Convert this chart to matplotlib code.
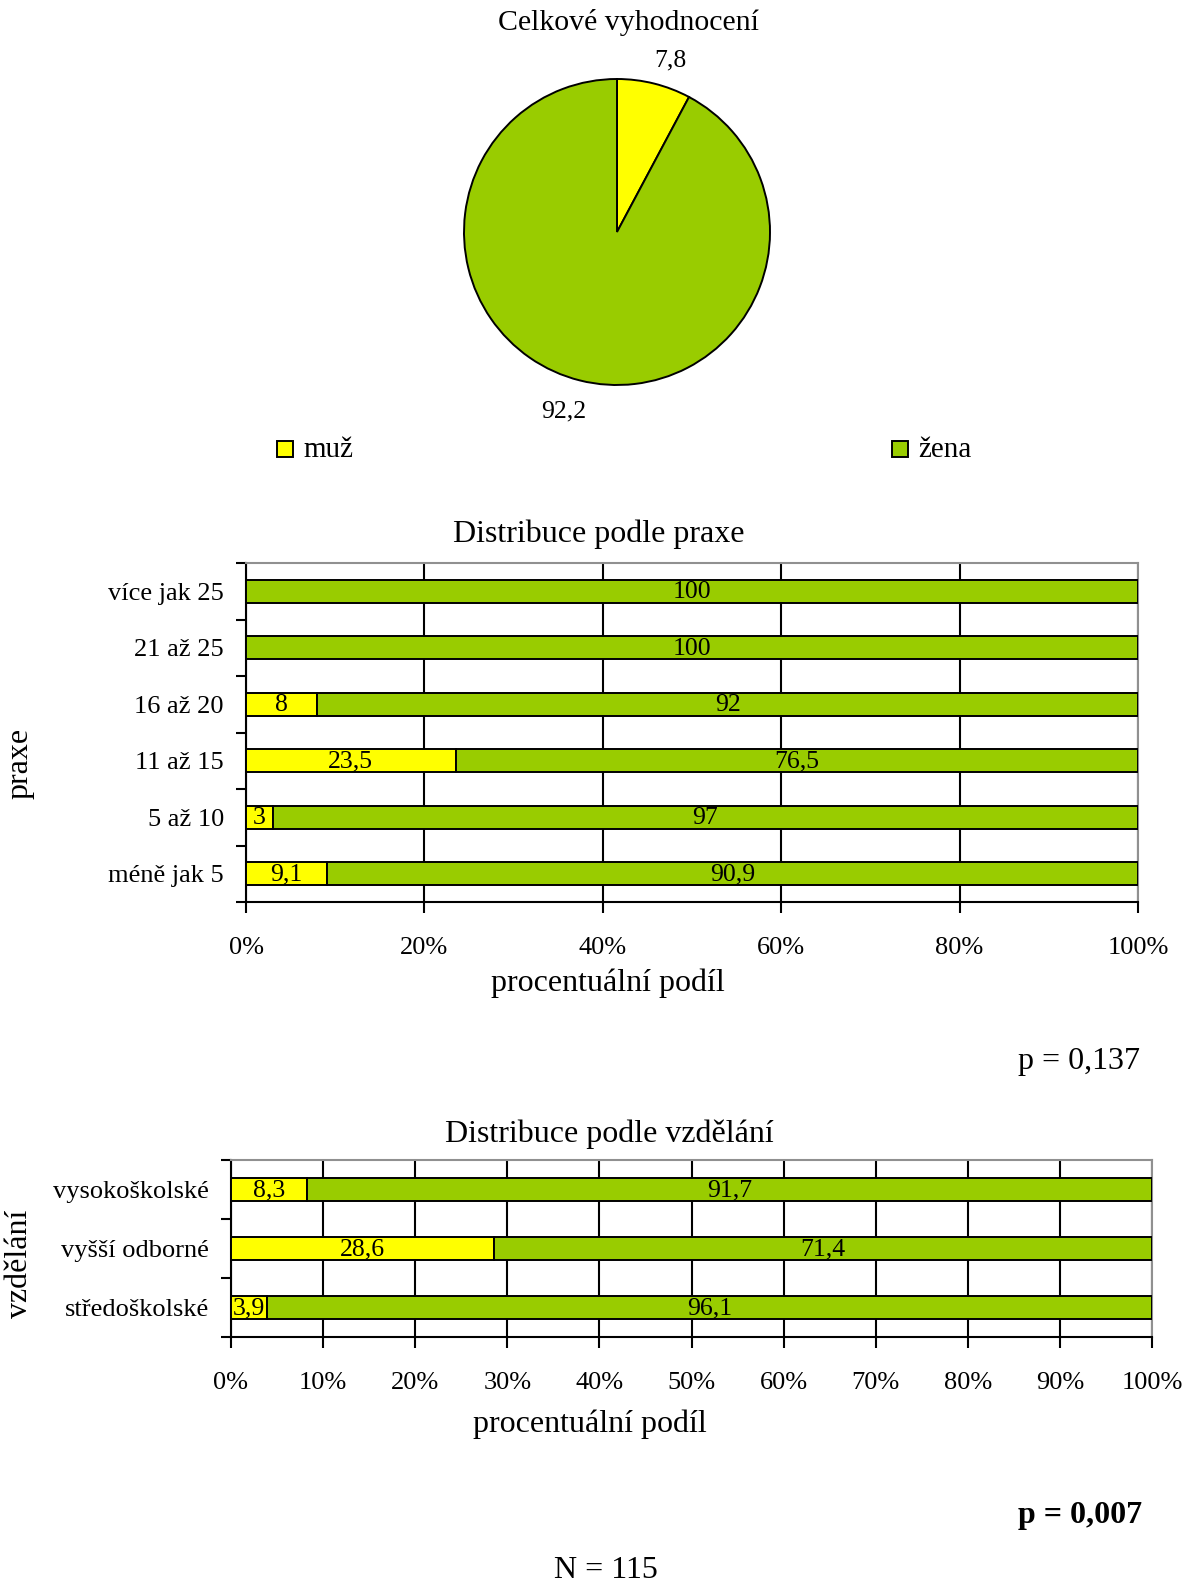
import matplotlib
matplotlib.use("Agg")
import matplotlib.pyplot as plt
from matplotlib.patches import Rectangle

plt.rcParams["font.family"] = ["Liberation Serif", "DejaVu Serif"]

YELLOW = "#FFFF00"
GREEN = "#99CC00"

# overall split
pie_labels = ["muž", "žena"]
pie_values = [7.8, 92.2]

# by practice length
praxe_cats = ["méně jak 5", "5 až 10", "11 až 15", "16 až 20", "21 až 25", "více jak 25"]
praxe_muz = [9.1, 3, 23.5, 8, 0, 0]
praxe_zena = [90.9, 97, 76.5, 92, 100, 100]

# by education
vzd_cats = ["středoškolské", "vyšší odborné", "vysokoškolské"]
vzd_muz = [3.9, 28.6, 8.3]
vzd_zena = [96.1, 71.4, 91.7]

W, H = 1188, 1585
fig = plt.figure(figsize=(W / 100, H / 100), dpi=100)


def px_axes(left, top, right, bottom):
    return fig.add_axes([left / W, 1 - bottom / H, (right - left) / W, (bottom - top) / H])


def fmt(v):
    return f"{v:g}".replace(".", ",")


def stacked_bars(ax, cats, muz, zena, xticks, bar_h):
    y = range(len(cats))
    ax.barh(y, muz, height=bar_h, color=YELLOW, edgecolor="black", linewidth=1.4, zorder=3)
    ax.barh(y, zena, left=muz, height=bar_h, color=GREEN, edgecolor="black", linewidth=1.4, zorder=3)
    for i in y:
        if muz[i] > 0:
            ax.text(muz[i] / 2, i - 0.02, fmt(muz[i]), ha="center", va="center", fontsize=18.5, zorder=4)
        ax.text(muz[i] + zena[i] / 2, i - 0.02, fmt(zena[i]), ha="center", va="center", fontsize=18.5, zorder=4)
    ax.set_xlim(0, 100)
    ax.set_ylim(-0.5, len(cats) - 0.5)
    ax.set_xticks(xticks)
    ax.set_xticklabels([f"{t}%" for t in xticks], fontsize=19)
    ax.set_yticks([i - 0.5 for i in range(len(cats) + 1)])
    ax.set_yticklabels([])
    ax.set_yticks(list(y), minor=True)
    ax.set_yticklabels(cats, minor=True, fontsize=19)
    ax.tick_params(axis="y", which="major", length=7, width=1.5, direction="out")
    ax.tick_params(axis="y", which="minor", length=0, pad=16)
    ax.tick_params(axis="x", length=8, width=1.5, direction="out", pad=17)
    ax.grid(axis="x", color="black", linewidth=1.5, zorder=0)
    ax.set_axisbelow(True)
    for s in ["left", "bottom"]:
        ax.spines[s].set_color("black")
        ax.spines[s].set_linewidth(1.5)
    for s in ["top", "right"]:
        ax.spines[s].set_color("#909090")
        ax.spines[s].set_linewidth(1.5)


# pie chart
ax_pie = px_axes(464, 79, 770, 385)
wedges, texts = ax_pie.pie(
    pie_values,
    colors=[YELLOW, GREEN],
    startangle=90,
    counterclock=False,
    labels=[fmt(v) for v in pie_values],
    labeldistance=1.17,
    wedgeprops={"edgecolor": "black", "linewidth": 1.4},
    textprops={"fontsize": 18.5},
)
# nudge labels to where the original places them
texts[0].set_position((0.35, 1.12))
texts[0].set_ha("center")
texts[1].set_position((-0.35, -1.17))
texts[1].set_ha("center")
ax_pie.set_xlim(-1, 1)
ax_pie.set_ylim(-1, 1)
fig.text(628 / W, 1 - 22 / H, "Celkové vyhodnocení", ha="center", va="center", fontsize=21.5)

for (lx, tx), lab, col in zip([(285, 303), (900, 918)], pie_labels, [YELLOW, GREEN]):
    fig.patches.append(Rectangle(((lx - 8) / W, 1 - 457 / H), 16 / W, 16 / H,
                                 transform=fig.transFigure, facecolor=col,
                                 edgecolor="black", linewidth=1.4))
    fig.text(tx / W, 1 - 450 / H, lab, ha="left", va="center", fontsize=21)

# practice chart
ax1 = px_axes(246, 563, 1138, 902)
stacked_bars(ax1, praxe_cats, praxe_muz, praxe_zena, [0, 20, 40, 60, 80, 100], 0.41)
fig.text(599 / W, 1 - 534 / H, "Distribuce podle praxe", ha="center", va="center", fontsize=23)
fig.text(608 / W, 1 - 983 / H, "procentuální podíl", ha="center", va="center", fontsize=23)
fig.text(20 / W, 1 - 763 / H, "praxe", ha="center", va="center", rotation=90, fontsize=23)
fig.text(1140 / W, 1 - 1061 / H, "p = 0,137", ha="right", va="center", fontsize=23)

# education chart
ax2 = px_axes(231, 1160, 1152, 1337)
stacked_bars(ax2, vzd_cats, vzd_muz, vzd_zena, list(range(0, 101, 10)), 0.39)
fig.text(609 / W, 1 - 1134 / H, "Distribuce podle vzdělání", ha="center", va="center", fontsize=23)
fig.text(590 / W, 1 - 1424 / H, "procentuální podíl", ha="center", va="center", fontsize=23)
fig.text(20 / W, 1 - 1264 / H, "vzdělání", ha="center", va="center", rotation=90, fontsize=23)
fig.text(1142 / W, 1 - 1516 / H, "p = 0,007", ha="right", va="center", fontsize=23, fontweight="bold")

fig.text(606 / W, 1 - 1570 / H, "N = 115", ha="center", va="center", fontsize=23)

fig.savefig("out.png", dpi=100)
